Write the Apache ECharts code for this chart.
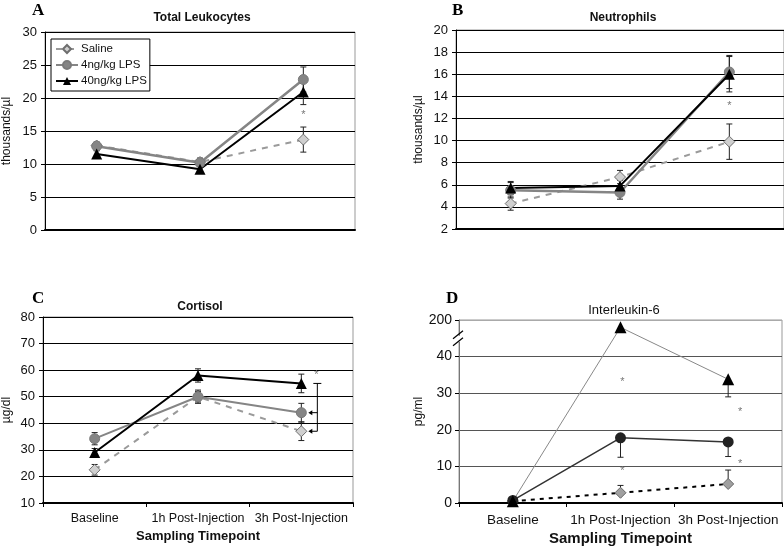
<!DOCTYPE html>
<html><head><meta charset="utf-8">
<script src="https://cdn.jsdelivr.net/npm/echarts@6/dist/echarts.min.js"></script>
<style>html,body{margin:0;padding:0;background:#fff}#c{width:784px;height:547px}</style>
</head><body><div id="c"></div>
<script>
// ---------- data ----------
const categories = ['Baseline', '1h Post-Injection', '3h Post-Injection'];
const groupNames = ['Saline', '4ng/kg LPS', '40ng/kg LPS'];

// A: Total Leukocytes (thousands/µl)
const leukoSaline = [12.8, 10.3, 13.7];
const leukoSalineErr = [0.5, 0.6, 1.9];
const leukoLow = [12.7, 10.2, 22.8];
const leukoLowErr = [0.6, 0.6, 1.9];
const leukoHigh = [11.5, 9.2, 20.9];
const leukoHighErr = [0.5, 0.5, 1.9];
const leukoStars = [[2, 17.5]];

// B: Neutrophils (thousands/µl)
const neutSaline = [4.3, 6.7, 9.9];
const neutSalineErr = [0.6, 0.6, 1.6];
const neutLow = [5.5, 5.3, 16.2];
const neutLowErr = [0.7, 0.6, 1.5];
const neutHigh = [5.7, 5.9, 16.0];
const neutHighErr = [0.6, 0.5, 1.6];
const neutStars = [[2, 13.1]];

// C: Cortisol (µg/dl)
const cortSaline = [22.5, 50.0, 37.0];
const cortSalineErr = [2.0, 2.0, 3.5];
const cortLow = [34.2, 50.0, 44.0];
const cortLowErr = [2.3, 2.5, 3.5];
const cortHigh = [29.0, 58.0, 55.0];
const cortHighErr = [1.5, 2.5, 3.5];
const cortStars = [[2, 58.2]];
const cortBracket = [2, 55.0, 44.0, 37.0]; // [category, top, arrow1, arrow2]

// D: Interleukin-6 (pg/ml), axis broken between 40 and 200
const ilSaline = [0.5, 2.8, 5.2];
const ilSalineErrUp = [0, 2.0, 3.8];
const ilLow = [0.7, 17.8, 16.7];
const ilLowErrDown = [0, 5.3, 4.0];
const ilHigh = [0.5, 168, 33.8];
const ilHighErrDown = [0, 0, 4.8];
const ilStars = [[1, 33.0], [1, 8.7], [2, 25.0], [2, 10.8]];
const ilTicks = [0, 10, 20, 30, 40, 200];

// ---------- helpers ----------
const FONT = 'Liberation Sans, Arial, sans-serif';
function brk(v) { return v <= 40 ? v : 40 + (v - 40) * 10 / 160; } // 200 -> 50

const styles = {
  saline: { line: { color: '#9a9a9a', width: 2, type: [6, 6] }, symbol: 'diamond', size: 11, item: { color: '#cfcfcf', borderColor: '#6e6e6e', borderWidth: 1 } },
  low: { line: { color: '#858585', width: 2.5, type: 'solid' }, symbol: 'circle', size: 10, item: { color: '#858585', borderColor: '#7a7a7a', borderWidth: 1 } },
  high: { line: { color: '#000', width: 2, type: 'solid' }, symbol: 'triangle', size: 11, item: { color: '#000' } }
};

function lineSeries(name, gi, data, st) {
  return {
    type: 'line', name: name, xAxisIndex: gi, yAxisIndex: gi, data: data,
    symbol: st.symbol, symbolSize: st.size, lineStyle: st.line, itemStyle: st.item,
    z: 3, animation: false, silent: true
  };
}
function errSeries(gi, vals, low, high, tf) {
  tf = tf || (v => v);
  const d = vals.map((v, i) => [i, v, low[i], high[i]]);
  return {
    type: 'custom', xAxisIndex: gi, yAxisIndex: gi, data: d, z: 2, silent: true, animation: false,
    renderItem: function (params, api) {
      const i = api.value(0), v = api.value(1), lo = api.value(2), hi = api.value(3);
      if (lo === 0 && hi === 0) return null;
      const p1 = api.coord([i, tf(v - lo)]), p2 = api.coord([i, tf(v + hi)]);
      const ch = [];
      const s = { stroke: '#222', lineWidth: 1 };
      ch.push({ type: 'line', shape: { x1: p1[0], y1: p1[1], x2: p2[0], y2: p2[1] }, style: s });
      if (lo > 0) ch.push({ type: 'line', shape: { x1: p1[0] - 3, y1: p1[1], x2: p1[0] + 3, y2: p1[1] }, style: s });
      if (hi > 0) ch.push({ type: 'line', shape: { x1: p2[0] - 3, y1: p2[1], x2: p2[0] + 3, y2: p2[1] }, style: s });
      return { type: 'group', children: ch };
    }
  };
}
function starSeries(gi, stars, dxFn, tf) {
  tf = tf || (v => v);
  return {
    type: 'custom', xAxisIndex: gi, yAxisIndex: gi, data: stars, z: 4, silent: true, animation: false,
    renderItem: function (params, api) {
      const c = api.value(0);
      const p = api.coord([c, tf(api.value(1))]);
      return { type: 'text', x: p[0] + dxFn(c), y: p[1], style: { text: '*', fill: '#777', font: '11px ' + FONT, align: 'center', verticalAlign: 'middle' } };
    }
  };
}

const grids = [
  { left: 39, top: 32, width: 316, height: 198 },
  { left: 456, top: 30, width: 330, height: 199 },
  { left: 37, top: 317, width: 316, height: 186 },
  { left: 459, top: 320, width: 323, height: 183 }
].map(g => Object.assign({ show: true, borderColor: '#999', borderWidth: 1, containLabel: false }, g));

function xAxis(gi, labels) {
  return {
    type: 'category', gridIndex: gi, data: categories, boundaryGap: true,
    axisLine: { lineStyle: { color: '#000', width: 2 } },
    axisTick: { show: labels, length: 4, lineStyle: { color: '#000' } },
    axisLabel: { show: labels, interval: 0, hideOverlap: false, color: '#111', fontFamily: FONT, fontSize: gi === 3 ? 13.5 : 12.5, margin: gi === 3 ? 10 : 9 },
    name: labels ? 'Sampling Timepoint' : '', nameLocation: 'middle', nameGap: gi === 3 ? 28 : 27,
    nameTextStyle: { color: '#111', fontFamily: FONT, fontWeight: 'bold', fontSize: gi === 3 ? 15 : 13 },
    splitLine: { show: false }
  };
}
function yAxis(gi, min, max, interval, name, nameGap, extra) {
  return Object.assign({
    type: 'value', gridIndex: gi, min: min, max: max, interval: interval,
    axisLine: { show: true, lineStyle: { color: '#000', width: 1 } },
    axisTick: { show: true, length: 4, lineStyle: { color: '#000' } },
    axisLabel: { color: '#111', fontFamily: FONT, fontSize: 13, margin: 8 },
    splitLine: { show: true, lineStyle: { color: '#000', width: 1 } },
    name: name, nameLocation: 'middle', nameGap: nameGap, nameRotate: 90,
    nameTextStyle: { color: '#111', fontFamily: FONT, fontSize: 12 }
  }, extra || {});
}

const series = [];
// A
series.push(errSeries(0, leukoSaline, leukoSalineErr, leukoSalineErr));
series.push(errSeries(0, leukoLow, leukoLowErr, leukoLowErr));
series.push(errSeries(0, leukoHigh, leukoHighErr, leukoHighErr));
series.push(lineSeries(groupNames[0], 0, leukoSaline, styles.saline));
series.push(lineSeries(groupNames[1], 0, leukoLow, styles.low));
series.push(lineSeries(groupNames[2], 0, leukoHigh, styles.high));
series.push(starSeries(0, leukoStars, () => 0));
// B
series.push(errSeries(1, neutSaline, neutSalineErr, neutSalineErr));
series.push(errSeries(1, neutLow, neutLowErr, neutLowErr));
series.push(errSeries(1, neutHigh, neutHighErr, neutHighErr));
series.push(lineSeries(groupNames[0], 1, neutSaline, styles.saline));
series.push(lineSeries(groupNames[1], 1, neutLow, styles.low));
series.push(lineSeries(groupNames[2], 1, neutHigh, styles.high));
series.push(starSeries(1, neutStars, () => 0));
// C
series.push(errSeries(2, cortSaline, cortSalineErr, cortSalineErr));
series.push(errSeries(2, cortLow, cortLowErr, cortLowErr));
series.push(errSeries(2, cortHigh, cortHighErr, cortHighErr));
series.push(lineSeries(groupNames[0], 2, cortSaline, styles.saline));
series.push(lineSeries(groupNames[1], 2, cortLow, Object.assign({}, styles.low, { line: { color: '#858585', width: 2 } })));
series.push(lineSeries(groupNames[2], 2, cortHigh, styles.high));
series.push(starSeries(2, cortStars, () => 15));
series.push({
  type: 'custom', xAxisIndex: 2, yAxisIndex: 2, data: [cortBracket], z: 4, silent: true, animation: false,
  renderItem: function (params, api) {
    const c = api.value(0);
    const top = api.coord([c, api.value(1)]), a1 = api.coord([c, api.value(2)]), a2 = api.coord([c, api.value(3)]);
    const bx = top[0] + 16, s = { stroke: '#000', lineWidth: 1 };
    const ch = [
      { type: 'line', shape: { x1: bx, y1: top[1], x2: bx, y2: a2[1] }, style: s },
      { type: 'line', shape: { x1: bx - 4, y1: top[1], x2: bx + 4, y2: top[1] }, style: s }
    ];
    [a1, a2].forEach(p => {
      ch.push({ type: 'line', shape: { x1: bx, y1: p[1], x2: p[0] + 9, y2: p[1] }, style: s });
      ch.push({ type: 'polygon', shape: { points: [[p[0] + 7, p[1]], [p[0] + 11, p[1] - 2.5], [p[0] + 11, p[1] + 2.5]] }, style: { fill: '#000' } });
    });
    return { type: 'group', children: ch };
  }
});
// D (broken axis)
series.push(errSeries(3, ilSaline, ilSaline.map(() => 0), ilSalineErrUp, brk));
series.push(errSeries(3, ilLow, ilLowErrDown, ilLow.map(() => 0), brk));
series.push(errSeries(3, ilHigh, ilHighErrDown, ilHigh.map(() => 0), brk));
series.push(lineSeries(groupNames[0], 3, ilSaline.map(brk), { line: { color: '#000', width: 2, type: [4, 5] }, symbol: 'diamond', size: 11, item: { color: '#a0a0a0', borderColor: '#666', borderWidth: 1 } }));
series.push(lineSeries(groupNames[1], 3, ilLow.map(brk), { line: { color: '#333', width: 1.5 }, symbol: 'circle', size: 11, item: { color: '#222' } }));
series.push(lineSeries(groupNames[2], 3, ilHigh.map(brk), { line: { color: '#888', width: 1 }, symbol: 'triangle', size: 12, item: { color: '#000' } }));
series.push(starSeries(3, ilStars, c => c === 2 ? 12 : 2, brk));
// break marks on D's y axis
series.push({
  type: 'custom', xAxisIndex: 3, yAxisIndex: 3, data: [[0, 44.6]], z: 5, silent: true, animation: false,
  renderItem: function (params, api) {
    const p = api.coord([api.value(0), api.value(1)]);
    const x = params.coordSys.x, y = p[1], s = { stroke: '#000', lineWidth: 1.2 };
    return { type: 'group', children: [
      { type: 'rect', shape: { x: x - 2, y: y - 4, width: 4, height: 6 }, style: { fill: '#fff' } },
      { type: 'line', shape: { x1: x - 6, y1: y - 1, x2: x + 4, y2: y - 9 }, style: s },
      { type: 'line', shape: { x1: x - 6, y1: y + 6, x2: x + 4, y2: y - 2 }, style: s }
    ] };
  }
});

const titleStyle = { fontFamily: FONT, fontSize: 12, fontWeight: 'bold', color: '#111' };
const letterStyle = { fontFamily: 'Liberation Serif, Times New Roman, serif', fontSize: 17, fontWeight: 'bold', color: '#000' };

const option = {
  animation: false,
  backgroundColor: '#fff',
  title: [
    { text: 'Total Leukocytes', left: 197, top: 7, textAlign: 'center', textStyle: titleStyle },
    { text: 'Neutrophils', left: 618, top: 7, textAlign: 'center', textStyle: titleStyle },
    { text: 'Cortisol', left: 195, top: 296, textAlign: 'center', textStyle: titleStyle },
    { text: 'Interleukin-6', left: 619, top: 299, textAlign: 'center', textStyle: Object.assign({}, titleStyle, { fontWeight: 'normal', fontSize: 13 }) },
    { text: 'A', left: 27, top: -3, textStyle: letterStyle },
    { text: 'B', left: 447, top: -3, textStyle: letterStyle },
    { text: 'C', left: 27, top: 285, textStyle: letterStyle },
    { text: 'D', left: 441, top: 285, textStyle: letterStyle }
  ],
  legend: {
    data: groupNames, orient: 'vertical', left: 51, top: 39,
    backgroundColor: '#fff', borderColor: '#000', borderWidth: 1, padding: [4, 3, 4, 4], itemGap: 4,
    itemWidth: 22, itemHeight: 10, selectedMode: false,
    textStyle: { fontFamily: FONT, fontSize: 11.5, color: '#111', padding: [0, 0, 0, -2] }
  },
  grid: grids,
  xAxis: [xAxis(0, false), xAxis(1, false), xAxis(2, true), xAxis(3, true)],
  yAxis: [
    yAxis(0, 0, 30, 5, 'thousands/µl', 32),
    yAxis(1, 2, 20, 2, 'thousands/µl', 31),
    yAxis(2, 10, 80, 10, 'µg/dl', 30),
    yAxis(3, 0, 50, 10, 'pg/ml', 28, {
      axisLabel: { color: '#111', fontFamily: FONT, fontSize: 14, margin: 7, formatter: v => v === 50 ? String(ilTicks[5]) : String(v) },
      splitLine: { show: true, lineStyle: { color: ['#555', '#555', '#555', '#555', '#555', '#aaa'], width: 1 } },
      axisLine: { show: true, lineStyle: { color: '#777', width: 1 } }
    })
  ],
  series: series
};
const chart = echarts.init(document.getElementById('c'), null, { renderer: 'canvas' });
chart.setOption(option);
</script></body></html>
